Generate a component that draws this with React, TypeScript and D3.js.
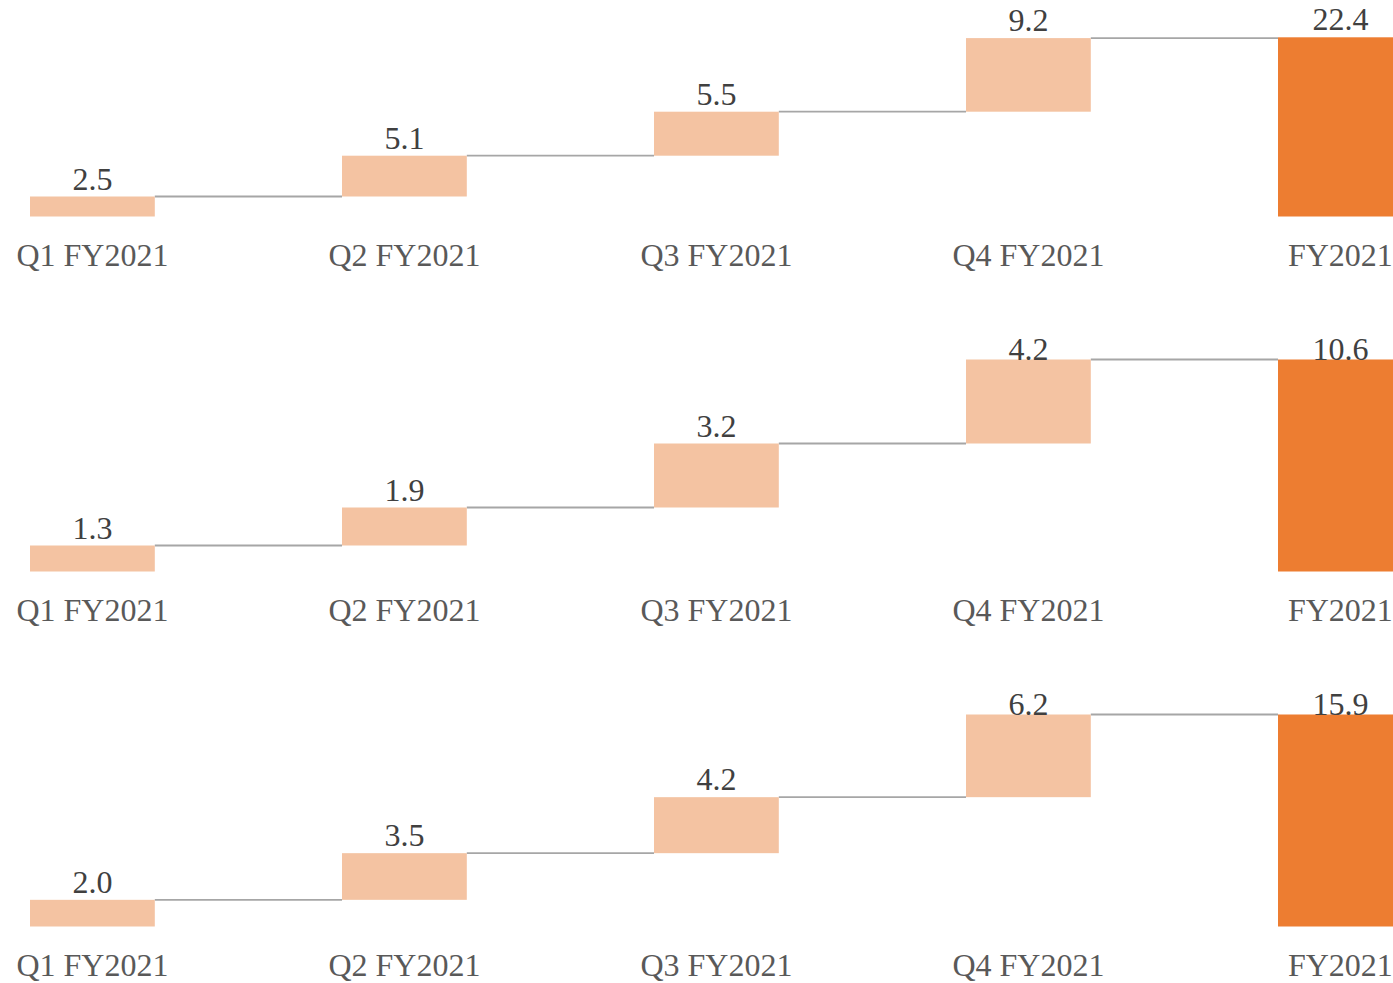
import React from "react";
import * as d3 from "d3";

const categories = ["Q1 FY2021", "Q2 FY2021", "Q3 FY2021", "Q4 FY2021", "FY2021"];
const panel1Values = [2.5, 5.1, 5.5, 9.2];
const panel1Total = 22.4;
const panel2Values = [1.3, 1.9, 3.2, 4.2];
const panel2Total = 10.6;
const panel3Values = [2.0, 3.5, 4.2, 6.2];
const panel3Total = 15.9;
const panelDomainMax = [26.5, 10.6, 15.9];

const panels = [
  { values: panel1Values, total: panel1Total, max: panelDomainMax[0] },
  { values: panel2Values, total: panel2Total, max: panelDomainMax[1] },
  { values: panel3Values, total: panel3Total, max: panelDomainMax[2] },
];

const W = 1393;
const H = 983;
const LIGHT = "#F4C3A2";
const DARK = "#ED7D31";
const LINE = "#A6A6A6";
const FONT = "'Liberation Serif', 'Times New Roman', serif";

const x = d3
  .scaleBand<string>()
  .domain(categories)
  .range([-63.6, 1496.4])
  .paddingInner(0.6)
  .paddingOuter(0.3);

function Panel({ p, base }: { p: typeof panels[0]; base: number }) {
  const plotH = 212;
  const y = d3.scaleLinear().domain([0, p.max]).range([base, base - plotH]);
  const cum: number[] = [];
  let acc = 0;
  p.values.forEach((v) => {
    cum.push(acc);
    acc += v;
  });
  const bw = x.bandwidth();
  const labelMin = base - plotH;
  const bars = p.values.map((v, i) => ({
    cat: categories[i],
    y0: cum[i],
    y1: cum[i] + v,
    label: v.toFixed(1),
    color: LIGHT,
  }));
  bars.push({ cat: categories[4], y0: 0, y1: p.total, label: p.total.toFixed(1), color: DARK });
  return (
    <g>
      {bars.slice(0, -1).map((b, i) => {
        const next = bars[i + 1];
        const ly = y(b.y1);
        return (
          <line
            key={"l" + i}
            x1={(x(b.cat) as number) + bw}
            x2={x(next.cat) as number}
            y1={ly}
            y2={ly}
            stroke={LINE}
            strokeWidth={1.8}
          />
        );
      })}
      {bars.map((b, i) => (
        <rect
          key={"r" + i}
          x={x(b.cat) as number}
          y={y(b.y1)}
          width={bw}
          height={y(b.y0) - y(b.y1)}
          fill={b.color}
        />
      ))}
      {bars.map((b, i) => (
        <text
          key={"t" + i}
          x={(x(b.cat) as number) + bw / 2}
          y={Math.max(y(b.y1) - 7, labelMin)}
          textAnchor="middle"
          fontFamily={FONT}
          fontSize={32}
          fill="#404040"
        >
          {b.label}
        </text>
      ))}
      {categories.map((c) => (
        <text
          key={"c" + c}
          x={(x(c) as number) + bw / 2}
          y={base + 49}
          textAnchor="middle"
          fontFamily={FONT}
          fontSize={32}
          fill="#595959"
        >
          {c}
        </text>
      ))}
    </g>
  );
}

export default function App() {
  const bases = [216.5, 571.5, 926.5];
  return (
    <svg
      width={W}
      height={H}
      style={{ position: "fixed", left: 0, top: 0, background: "#fff" }}
    >
      <rect x={0} y={0} width={W} height={H} fill="#fff" />
      {panels.map((p, i) => (
        <Panel key={i} p={p} base={bases[i]} />
      ))}
    </svg>
  );
}
